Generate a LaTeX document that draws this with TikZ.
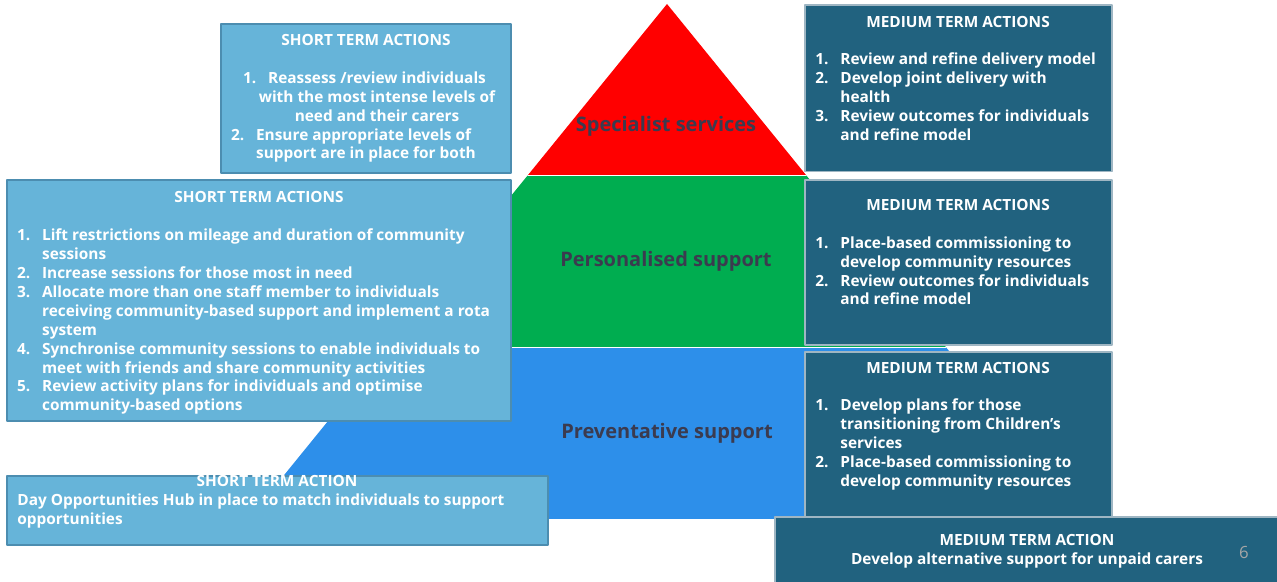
\documentclass[tikz,border=0pt]{standalone}
\usepackage{fontspec}
\setmainfont{Open Sans}
\usetikzlibrary{fit}

\definecolor{shortblue}{HTML}{66B4D9}
\definecolor{shortedge}{HTML}{4C8DB0}
\definecolor{mediumteal}{HTML}{21627F}
\definecolor{mediumedge}{HTML}{9FB6C3}
\definecolor{persgreen}{HTML}{00AD50}
\definecolor{prevblue}{HTML}{2D8FEA}
\definecolor{tierlabel}{HTML}{3B3B4F}

\newcommand*{\boxfont}{\fontsize{7.7}{9.45}\selectfont}
\newcommand*{\itemno}[1]{\makebox[12.5pt][l]{#1.}}
\newcommand*{\cont}{\hspace*{12.5pt}}

\begin{document}
\begin{tikzpicture}[x=0.5pt,y=-0.5pt,line join=round,
    shortbox/.style={draw=shortedge,fill=shortblue,line width=0.6pt,inner sep=0pt},
    mediumbox/.style={draw=mediumedge,fill=mediumteal,line width=0.6pt,inner sep=0pt},
    head/.style={text=white,font=\bfseries\boxfont,inner sep=0pt,anchor=base},
    list/.style={text=white,font=\bfseries\boxfont,inner sep=0pt,anchor=base west,align=left},
    tier/.style={text=tierlabel,font=\bfseries\fontsize{10}{12}\selectfont,inner sep=0pt,anchor=base}]
    \useasboundingbox (0,0) rectangle (1277,582);
    \coordinate (apex) at (667,4);
    \coordinate (baseL) at (248.4,519);
    \coordinate (baseR) at (1085.6,519);
    \begin{scope}
        \clip (apex) -- (baseL) -- (baseR) -- cycle;
        \fill[red] (0,0) rectangle (1277,175.5);
        \fill[persgreen] (0,175.5) rectangle (1277,347.5);
        \fill[prevblue] (0,347.5) rectangle (1277,519);
        \draw[white,line width=0.8pt] (0,175.5) -- (1277,175.5) (0,347.5) -- (1277,347.5);
    \end{scope}
    \node[tier] (spec) at (666,131.7) {Specialist services};
    \node[tier] (pers) at (666,266.7) {Personalised support};
    \node[tier] (prev) at (667,438.7) {Preventative support};

    % lists sit on the baseline of their last line
    \node[shortbox,fit={(221,24) (511,173)}] (sa) {};
    \node[head] (sa-head) at (366,46) {SHORT TERM ACTIONS};
    \node[list,anchor=base,align=center] (sa-one) at (377,121.7) {\llap{\itemno{1}}Reassess /review individuals\\with the most intense levels of\\need and their carers};
    \node[list] (sa-two) at (230.7,159) {\itemno{2}Ensure appropriate levels of\\\cont support are in place for both};

    \node[shortbox,fit={(7,180) (511,421)}] (sb) {};
    \node[head] (sb-head) at (259,202.7) {SHORT TERM ACTIONS};
    \node[list] (sb-list) at (16.7,410.8) {\itemno{1}Lift restrictions on mileage and duration of community\\
        \cont sessions\\
        \itemno{2}Increase sessions for those most in need\\
        \itemno{3}Allocate more than one staff member to individuals\\
        \cont receiving community-based support and implement a rota\\
        \cont system\\
        \itemno{4}Synchronise community sessions to enable individuals to\\
        \cont meet with friends and share community activities\\
        \itemno{5}Review activity plans for individuals and optimise\\
        \cont community-based options};

    \node[shortbox,fit={(7,476) (548,545)}] (sc) {};
    \node[head] (sc-head) at (277,486.5) {SHORT TERM ACTION};
    \node[list] (sc-list) at (17,524) {Day Opportunities Hub in place to match individuals to support\\opportunities};

    \node[mediumbox,fit={(805,5) (1112,171.5)}] (ma) {};
    \node[head] (ma-head) at (958,27.3) {MEDIUM TERM ACTIONS};
    \node[list] (ma-list) at (815,140.5) {\itemno{1}Review and refine delivery model\\
        \itemno{2}Develop joint delivery with\\
        \cont health\\
        \itemno{3}Review outcomes for individuals\\
        \cont and refine model};

    \node[mediumbox,fit={(805,180) (1112,345)}] (mb) {};
    \node[head] (mb-head) at (958,211) {MEDIUM TERM ACTIONS};
    \node[list] (mb-list) at (815,305) {\itemno{1}Place-based commissioning to\\
        \cont develop community resources\\
        \itemno{2}Review outcomes for individuals\\
        \cont and refine model};

    \node[mediumbox,fit={(805,352) (1112,516.5)}] (mc) {};
    \node[head] (mc-head) at (958,373.3) {MEDIUM TERM ACTIONS};
    \node[list] (mc-list) at (815,486) {\itemno{1}Develop plans for those\\
        \cont transitioning from Children’s\\
        \cont services\\
        \itemno{2}Place-based commissioning to\\
        \cont develop community resources};

    \node[mediumbox,fit={(775,517) (1282,587)}] (md) {};
    \node[head] (md-head) at (1027,545.5) {MEDIUM TERM ACTION};
    \node[head] (md-line) at (1027,564.3) {Develop alternative support for unpaid carers};
    \node[text=black!35,font=\fontsize{8.4}{10}\selectfont,inner sep=0pt,anchor=base] (page) at (1244,558) {6};
\end{tikzpicture}
\end{document}
